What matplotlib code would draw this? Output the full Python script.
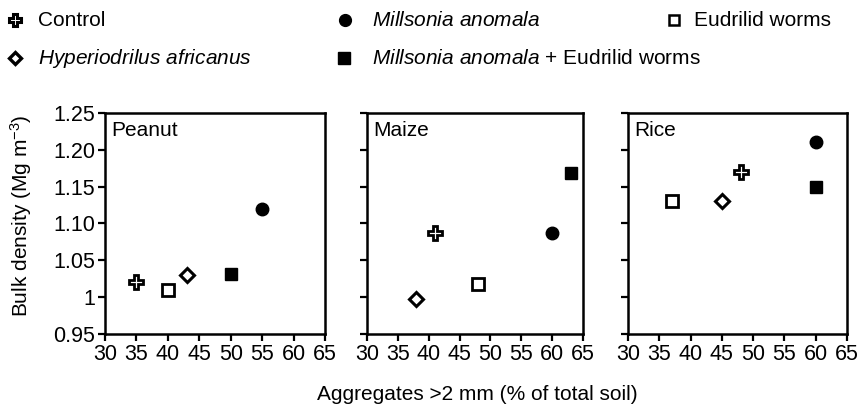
import matplotlib
matplotlib.use("Agg")
import matplotlib.pyplot as plt
from matplotlib.lines import Line2D

plt.rcParams['font.family'] = ['Liberation Sans', 'DejaVu Sans']
plt.rcParams['mathtext.fontset'] = 'custom'
plt.rcParams['mathtext.rm'] = 'Liberation Sans'
plt.rcParams['mathtext.it'] = 'Liberation Sans:italic'

crops = ["Peanut", "Maize", "Rice"]
treatments = ["Control", "Hyperiodrilus africanus", "Millsonia anomala",
              "Millsonia anomala + Eudrilid worms", "Eudrilid worms"]

# aggregates >2 mm (%) per crop, order = treatments
agg = {
    "Peanut": [35, 43, 55, 50, 40],
    "Maize":  [41, 38, 60, 63, 48],
    "Rice":   [48, 45, 60, 60, 37],
}
# bulk density (Mg m-3)
bd = {
    "Peanut": [1.02, 1.03, 1.12, 1.032, 1.01],
    "Maize":  [1.087, 0.998, 1.087, 1.168, 1.018],
    "Rice":   [1.17, 1.13, 1.21, 1.15, 1.13],
}

xticks = [30, 35, 40, 45, 50, 55, 60, 65]
yticks = [0.95, 1.00, 1.05, 1.10, 1.15, 1.20, 1.25]
ytick_labels = ["0.95", "1", "1.05", "1.10", "1.15", "1.20", "1.25"]

styles = [
    dict(marker='P', mfc='white', mec='black', ms=9.5, mew=2),
    dict(marker='D', mfc='white', mec='black', ms=7.5, mew=2.2),
    dict(marker='o', mfc='black', mec='black', ms=9, mew=1),
    dict(marker='s', mfc='black', mec='black', ms=8.5, mew=1),
    dict(marker='s', mfc='white', mec='black', ms=8, mew=2),
]

W, H = 864, 407
fig = plt.figure(figsize=(W / 100, H / 100), dpi=100)

panels_px = [(105, 325), (367, 583), (628, 847)]
top_px, bot_px = 113, 334
FS = 15
TFS = 15.5

for i, (crop, (l, r)) in enumerate(zip(crops, panels_px)):
    ax = fig.add_axes([l / W, 1 - bot_px / H, (r - l) / W, (bot_px - top_px) / H])
    for j in range(len(treatments)):
        ax.plot([agg[crop][j]], [bd[crop][j]], linestyle='none', **styles[j])
    ax.set_xlim(30, 65)
    ax.set_ylim(0.95, 1.25)
    ax.set_xticks(xticks)
    ax.set_yticks(yticks)
    if i == 0:
        ax.set_yticklabels(ytick_labels)
    else:
        ax.set_yticklabels([])
    ax.tick_params(direction='out', length=5, width=1.6, labelsize=TFS, pad=2)
    for s in ax.spines.values():
        s.set_linewidth(1.8)
    ax.text(0.03, 0.965, crop, transform=ax.transAxes, ha='left', va='top', fontsize=FS)

fig.text(21 / W, 1 - 216 / H, "Bulk density (Mg m$^{-3}$)", rotation=90,
         ha='center', va='center', fontsize=FS)
fig.text(477 / W, 1 - 395 / H, "Aggregates >2 mm (% of total soil)",
         ha='center', va='center', fontsize=FS)

# legend (manual layout)
leg_labels = ["Control", r"$\it{Hyperiodrilus\ africanus}$", r"$\it{Millsonia\ anomala}$",
              r"$\it{Millsonia\ anomala}$ + Eudrilid worms", "Eudrilid worms"]
leg_pos = [((15, 38), 20), ((15, 38), 58), ((345, 372), 20), ((344, 372), 58), ((674, 694), 20)]
leg_styles = [
    dict(marker='P', mfc='white', mec='black', ms=8.5, mew=2.2),
    dict(marker='D', mfc='white', mec='black', ms=6.5, mew=2.4),
    dict(marker='o', mfc='black', mec='black', ms=8.5, mew=1),
    dict(marker='s', mfc='black', mec='black', ms=8, mew=1),
    dict(marker='s', mfc='white', mec='black', ms=7, mew=1.8),
]
for lab, ((mx, tx), py), st in zip(leg_labels, leg_pos, leg_styles):
    fig.add_artist(Line2D([mx / W], [1 - py / H], transform=fig.transFigure,
                          linestyle='none', **st))
    fig.text(tx / W, 1 - py / H, lab, ha='left', va='center', fontsize=FS)

fig.savefig("out.png", dpi=100)
